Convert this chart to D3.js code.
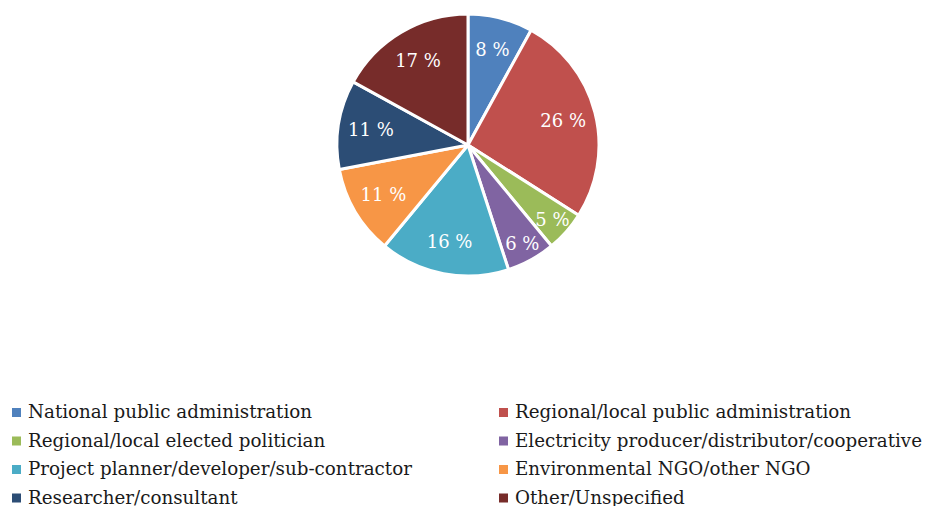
<!DOCTYPE html>
<meta charset="utf-8">
<title>Stakeholder pie</title>
<script src="https://d3js.org/d3.v7.min.js"></script>
<style>
  body { margin: 0; background: #fff; }
  text { font-family: "DejaVu Serif", "Liberation Serif", serif; }
</style>
<div id="chart"></div>
<script>
    // categories and shares (%)
    var categories = [
      "National public administration",
      "Regional/local public administration",
      "Regional/local elected politician",
      "Electricity producer/distributor/cooperative",
      "Project planner/developer/sub-contractor",
      "Environmental NGO/other NGO",
      "Researcher/consultant",
      "Other/Unspecified"
    ];
    var values = [8, 26, 5, 6, 16, 11, 11, 17];
    var colors = ["#4F81BD", "#C0504D", "#9BBB59", "#8064A2", "#4BACC6", "#F79646", "#2C4D75", "#772C2A"];

    var width = 932, height = 506;
    var cx = 468, cy = 145, r = 131;

    var svg = d3.select("#chart")
      .append("svg")
        .attr("width", width)
        .attr("height", height);

    var data = categories.map(function(c, i) { return {name: c, value: values[i], color: colors[i]}; });

    var pie = d3.pie()
      .sort(null)
      .value(function(d) { return d.value; });

    var arc = d3.arc().innerRadius(0).outerRadius(r);

    var g = svg.append("g")
      .attr("transform", "translate(" + cx + "," + cy + ")");

    var slices = pie(data);

    g.selectAll("path")
      .data(slices)
      .enter()
      .append("path")
        .attr("d", arc)
        .attr("fill", function(d) { return d.data.color; })
        .attr("stroke", "#fff")
        .attr("stroke-width", 3)
        .attr("stroke-linejoin", "round");

    // labels: small slices get pushed further out, like excel does
    g.selectAll("text.lbl")
      .data(slices)
      .enter()
      .append("text")
        .attr("class", "lbl")
        .attr("transform", function(d) {
          var k = d.data.value < 7 ? 0.86 : 0.75;
          var a = (d.startAngle + d.endAngle) / 2;
          return "translate(" + (Math.sin(a) * r * k) + "," + (-Math.cos(a) * r * k) + ")";
        })
        .attr("text-anchor", "middle")
        .attr("dy", "0.35em")
        .attr("fill", "#fff")
        .style("font-size", "18px")
        .text(function(d) { return d.data.value + "\u00a0%"; });

    // legend, two columns
    var colX = [12, 499], rowY = [418, 446.5, 475, 503.5];
    var leg = svg.selectAll("g.leg")
      .data(data)
      .enter()
      .append("g")
        .attr("class", "leg")
        .attr("transform", function(d, i) {
          return "translate(" + colX[i % 2] + "," + rowY[Math.floor(i / 2)] + ")";
        });

    leg.append("rect")
      .attr("x", 0)
      .attr("y", -10)
      .attr("width", 9)
      .attr("height", 9)
      .attr("fill", function(d) { return d.color; });

    leg.append("text")
      .attr("x", 16)
      .attr("y", 0)
      .attr("fill", "#1a1a1a")
      .style("font-size", "18.3px")
      .text(function(d) { return d.name; });
</script>
